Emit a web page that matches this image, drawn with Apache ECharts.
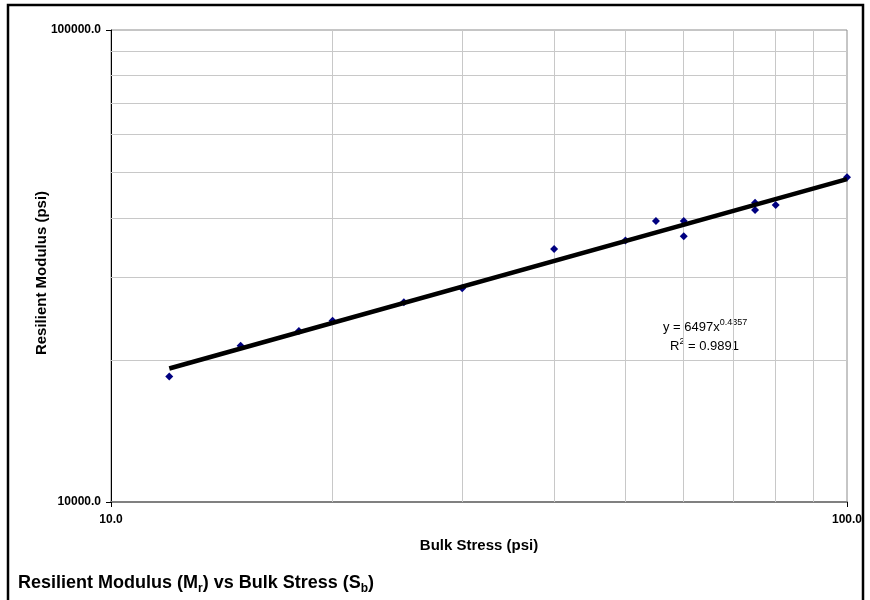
<!DOCTYPE html>
<html>
<head>
<meta charset="utf-8">
<script src="https://cdn.jsdelivr.net/npm/echarts@6/dist/echarts.min.js"></script>
<style>
html,body{margin:0;padding:0;background:#fff;}
#c{width:870px;height:600px;}
</style>
</head>
<body>
<div id="c"></div>
<script>
// Data
const stress = [12, 15, 18, 20, 25, 30, 40, 50, 55, 60, 60, 75, 75, 80, 100];
const modulus = [18440, 21440, 23030, 24220, 26500, 28360, 34360, 35790, 39380, 39380, 36550, 43060, 41560, 42580, 48740];
// Power trendline end points (y = 6497x^0.4357)
const trendX = [12, 100];
const trendY = [19180, 48310];
// Gridline positions (log minor lines)
const xGrid = [20, 30, 40, 50, 60, 70, 80, 90];
const yGrid = [20000, 30000, 40000, 50000, 60000, 70000, 80000, 90000];
const xRange = [10, 100];
const yRange = [10000, 100000];
const xTitle = 'Bulk Stress (psi)';
const yTitle = 'Resilient Modulus (psi)';
const equation = 'y = 6497x{sup|0.4357}';
const rSquared = 'R{sup|2} = 0.9891';
const bottomTitle = 'Resilient Modulus (M{sub|r}) vs Bulk Stress (S{sub|b})';

const FONT = 'Liberation Sans, Arial, sans-serif';
const chart = echarts.init(document.getElementById('c'), null, {renderer: 'canvas'});

const scatterData = stress.map((x, i) => [x, modulus[i]]);
const trendData = trendX.map((x, i) => [x, trendY[i]]);
const gridLines = xGrid.map(v => ({xAxis: v})).concat(yGrid.map(v => ({yAxis: v})));

const option = {
  animation: false,
  backgroundColor: '#ffffff',
  grid: {
    left: 111, right: 23, top: 30, bottom: 98,
    show: true, borderColor: '#8c8c8c', borderWidth: 1, backgroundColor: '#ffffff'
  },
  xAxis: {
    type: 'log', logBase: 10, min: xRange[0], max: xRange[1],
    axisLine: {show: true, onZero: false, lineStyle: {color: '#808080', width: 2}},
    axisTick: {show: true, length: 5, lineStyle: {color: '#000', width: 1}},
    axisLabel: {
      margin: 12, color: '#000', fontFamily: FONT, fontWeight: 'bold', fontSize: 12,
      formatter: v => Number(v).toFixed(1)
    },
    splitLine: {show: false},
    minorTick: {show: false}
  },
  yAxis: {
    type: 'log', logBase: 10, min: yRange[0], max: yRange[1],
    axisLine: {show: true, onZero: false, lineStyle: {color: '#000', width: 1}},
    axisTick: {show: true, length: 5, lineStyle: {color: '#000', width: 1}},
    axisLabel: {
      margin: 10, color: '#000', fontFamily: FONT, fontWeight: 'bold', fontSize: 12,
      formatter: v => Number(v).toFixed(1)
    },
    splitLine: {show: false}
  },
  series: [
    {
      type: 'scatter',
      name: 'data',
      z: 3,
      symbol: 'diamond',
      symbolSize: 8,
      itemStyle: {color: '#000080', opacity: 1},
      data: scatterData,
      markLine: {
        silent: true,
        z: 1,
        symbol: ['none', 'none'],
        label: {show: false},
        lineStyle: {color: '#c8c8c8', width: 1, type: 'solid'},
        emphasis: {disabled: true},
        data: gridLines
      }
    },
    {
      type: 'line',
      name: 'trend',
      z: 4,
      showSymbol: false,
      symbol: 'none',
      lineStyle: {color: '#000', width: 4.5},
      data: trendData
    }
  ],
  graphic: [
    {
      type: 'rect', silent: true, z: 100,
      shape: {x: 8, y: 5, width: 855, height: 620},
      style: {fill: 'none', stroke: '#000', lineWidth: 2.5}
    },
    {
      type: 'text', silent: true, x: 42, y: 273, rotation: Math.PI / 2,
      style: {text: yTitle, font: 'bold 15px ' + FONT, fill: '#000', textAlign: 'center', textVerticalAlign: 'middle'}
    },
    {
      type: 'text', silent: true, x: 479, y: 546,
      style: {text: xTitle, font: 'bold 15px ' + FONT, fill: '#000', textAlign: 'center', textVerticalAlign: 'middle'}
    },
    {
      type: 'text', silent: true, x: 663, y: 327,
      style: {
        text: equation, font: '13px ' + FONT, fill: '#000', textAlign: 'left', textVerticalAlign: 'middle',
        lineHeight: 18,
        rich: {sup: {fontSize: 9, fontFamily: FONT, lineHeight: 9, verticalAlign: 'top', fill: '#000'}}
      }
    },
    {
      type: 'text', silent: true, x: 670, y: 346,
      style: {
        text: rSquared, font: '13px ' + FONT, fill: '#000', textAlign: 'left', textVerticalAlign: 'middle',
        lineHeight: 18,
        rich: {sup: {fontSize: 9, fontFamily: FONT, lineHeight: 9, verticalAlign: 'top', fill: '#000'}}
      }
    },
    {
      type: 'text', silent: true, x: 18, y: 583,
      style: {
        text: bottomTitle, font: 'bold 18px ' + FONT, fill: '#000', textAlign: 'left', textVerticalAlign: 'middle',
        lineHeight: 24,
        rich: {sub: {fontSize: 12, fontWeight: 'bold', fontFamily: FONT, lineHeight: 12, verticalAlign: 'bottom', fill: '#000'}}
      }
    }
  ]
};
chart.setOption(option);
</script>
</body>
</html>
